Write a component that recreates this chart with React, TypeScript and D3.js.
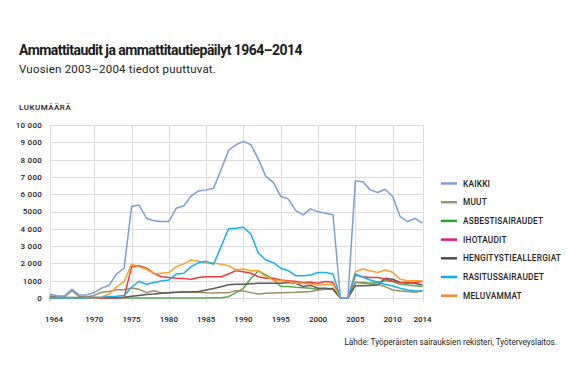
import * as React from "react";
import * as d3 from "d3";

const years = [
  1964, 1965, 1966, 1967, 1968, 1969, 1970, 1971, 1972, 1973, 1974, 1975, 1976,
  1977, 1978, 1979, 1980, 1981, 1982, 1983, 1984, 1985, 1986, 1987, 1988, 1989,
  1990, 1991, 1992, 1993, 1994, 1995, 1996, 1997, 1998, 1999, 2000, 2001, 2002,
  2003, 2004, 2005, 2006, 2007, 2008, 2009, 2010, 2011, 2012, 2013, 2014,
];

const kaikki = [
  220, 130, 110, 500, 180, 180, 320, 570, 740, 1400, 1720, 5290, 5380, 4610,
  4460, 4420, 4420, 5190, 5330, 5900, 6190, 6250, 6350, 7410, 8530, 8860, 9050,
  8860, 8030, 7030, 6680, 5870, 5730, 5060, 4810, 5150, 4980, 4900, 4810, 0, 0,
  6770, 6720, 6250, 6100, 6290, 5870, 4710, 4420, 4600, 4330,
];
const muut = [
  120, 60, 60, 420, 80, 60, 150, 330, 380, 480, 470, 580, 500, 310, 420, 310,
  310, 330, 330, 340, 330, 300, 290, 300, 310, 420, 400, 310, 230, 270, 290, 310,
  320, 330, 350, 370, 460, 510, 560, 0, 0, 910, 850, 810, 790, 660, 460, 400,
  370, 330, 420,
];
const asbesti = [
  0, 0, 0, 0, 0, 0, 0, 0, 0, 0, 0, 0, 0, 0, 0, 0, 0, 0, 0, 0, 0, 0, 10, 20, 75,
  310, 560, 1140, 1560, 1330, 1080, 660, 660, 620, 590, 560, 510, 510, 500, 0, 0,
  890, 890, 850, 910, 1000, 950, 790, 750, 710, 660,
];
const ihotaudit = [
  0, 0, 0, 0, 0, 0, 0, 0, 0, 0, 30, 1800, 1870, 1720, 1430, 1230, 1180, 1140,
  1120, 1080, 1180, 1230, 1230, 1230, 1390, 1580, 1520, 1430, 1230, 1140, 1140,
  1040, 1000, 950, 890, 910, 850, 950, 910, 0, 0, 1330, 1230, 1180, 1180, 1100,
  980, 890, 850, 910, 950,
];
const hengitys = [
  30, 30, 30, 30, 30, 30, 30, 30, 30, 30, 40, 100, 150, 200, 230, 270, 300, 330,
  350, 360, 380, 460, 550, 650, 770, 790, 790, 820, 850, 850, 850, 850, 890, 850,
  660, 730, 560, 560, 500, 0, 0, 710, 710, 720, 750, 1140, 1080, 910, 890, 850,
  750,
];
const rasitus = [
  0, 0, 0, 0, 0, 0, 30, 50, 80, 100, 150, 620, 970, 790, 890, 980, 1040, 1390,
  1430, 1810, 2040, 2120, 1950, 2970, 4000, 4030, 4090, 3690, 2590, 2200, 2040,
  1720, 1580, 1290, 1290, 1330, 1470, 1470, 1390, 0, 0, 1390, 1200, 1040, 910,
  790, 690, 560, 460, 420, 400,
];
const meluvammat = [
  0, 0, 0, 0, 0, 0, 0, 40, 230, 650, 950, 1960, 1810, 1660, 1390, 1430, 1470,
  1810, 1970, 2200, 2120, 2010, 2040, 1950, 1870, 1620, 1680, 1580, 1580, 1230,
  1040, 1000, 950, 850, 850, 810, 730, 770, 790, 0, 0, 1520, 1680, 1580, 1470,
  1620, 1490, 1080, 1000, 1000, 980,
];

const seriesNames = [
  "KAIKKI",
  "MUUT",
  "ASBESTISAIRAUDET",
  "IHOTAUDIT",
  "HENGITYSTIEALLERGIAT",
  "RASITUSSAIRAUDET",
  "MELUVAMMAT",
];
const seriesValues = [kaikki, muut, asbesti, ihotaudit, hengitys, rasitus, meluvammat];
const lineColors = ["#7b9ed6", "#9b8f5e", "#55ad50", "#ec3a3f", "#5a5a5a", "#13b2ec", "#ffa126"];
const legendColors = ["#7b9ed6", "#9c9572", "#1fae2a", "#ee127c", "#505050", "#14aaf0", "#fb8a2c"];
// drawing order: kaikki on top
const drawOrder = [2, 1, 4, 3, 6, 5, 0];

const yTicks = [0, 1000, 2000, 3000, 4000, 5000, 6000, 7000, 8000, 9000, 10000];
const yTickLabels = ["0", "1000", "2 000", "3 000", "4 000", "5000", "6 000", "7 000", "8 000", "9 000", "10 000"];
const xTicks = [1964, 1970, 1975, 1980, 1985, 1990, 1995, 2000, 2005, 2010, 2014];

const FONT = "Roboto, 'Liberation Sans', sans-serif";

function drawChart(svgRef) {
  const svg = d3.select(svgRef.current);
  svg.selectAll("*").remove();

  const x = d3.scaleLinear().domain([1964, 2014]).range([49.5, 422.5]);
  const y = d3.scaleLinear().domain([0, 10000]).range([298, 125]);

  svg.append("rect").attr("width", 567).attr("height", 370).attr("fill", "#fff");

  // titles
  svg
    .append("text")
    .attr("x", 19)
    .attr("y", 55)
    .attr("font-family", FONT)
    .attr("font-weight", 700)
    .attr("font-size", 14)
    .attr("letter-spacing", -0.55)
    .attr("fill", "#1a1a1a")
    .text("Ammattitaudit ja ammattitautiepäilyt 1964–2014");
  svg
    .append("text")
    .attr("x", 19)
    .attr("y", 73)
    .attr("font-family", FONT)
    .attr("font-size", 11.5)
    .attr("letter-spacing", 0.2)
    .attr("fill", "#222")
    .text("Vuosien 2003–2004 tiedot puuttuvat.");
  svg
    .append("text")
    .attr("x", 19)
    .attr("y", 110)
    .attr("font-family", FONT)
    .attr("font-weight", 500)
    .attr("font-size", 8)
    .attr("letter-spacing", 0.5)
    .attr("fill", "#222")
    .text("LUKUMÄÄRÄ");

  // grid
  const grid = svg.append("g").attr("stroke", "#dcdcdc").attr("stroke-width", 1);
  grid
    .selectAll("line.h")
    .data(yTicks)
    .enter()
    .append("line")
    .attr("x1", x(1964))
    .attr("x2", x(2014))
    .attr("y1", (d) => Math.round(y(d)) + 0.5)
    .attr("y2", (d) => Math.round(y(d)) + 0.5);
  grid
    .selectAll("line.v")
    .data(xTicks)
    .enter()
    .append("line")
    .attr("x1", (d) => Math.round(x(d)) + 0.5)
    .attr("x2", (d) => Math.round(x(d)) + 0.5)
    .attr("y1", y(10000))
    .attr("y2", y(0) + 4);

  // axis labels
  svg
    .append("g")
    .selectAll("text")
    .data(yTicks)
    .enter()
    .append("text")
    .attr("x", 42)
    .attr("y", (d) => y(d) + 2.9)
    .attr("text-anchor", "end")
    .attr("font-family", FONT)
    .attr("font-weight", 500)
    .attr("font-size", 8)
    .attr("letter-spacing", 0.25)
    .attr("fill", "#222")
    .text((d, i) => yTickLabels[i]);
  svg
    .append("g")
    .selectAll("text")
    .data(xTicks)
    .enter()
    .append("text")
    .attr("x", (d, i) => x(d) + (i === 0 ? 4.5 : 0))
    .attr("y", 322)
    .attr("text-anchor", "middle")
    .attr("font-family", FONT)
    .attr("font-weight", 500)
    .attr("font-size", 8)
    .attr("fill", "#222")
    .text((d) => d);

  // lines
  const line = d3
    .line()
    .x((d, i) => x(years[i]))
    .y((d) => y(d));

  svg
    .append("g")
    .selectAll("path")
    .data(drawOrder)
    .enter()
    .append("path")
    .attr("d", (k) => line(seriesValues[k]))
    .attr("fill", "none")
    .attr("stroke", (k) => lineColors[k])
    .attr("stroke-width", 1.5)
    .attr("stroke-linejoin", "round");

  // legend
  const legend = svg
    .append("g")
    .selectAll("g")
    .data(seriesNames)
    .enter()
    .append("g")
    .attr("transform", (d, i) => `translate(441, ${183.5 + i * 18.7})`);
  legend
    .append("line")
    .attr("x1", 0)
    .attr("x2", 16)
    .attr("stroke", (d, i) => legendColors[i])
    .attr("stroke-width", 2.5);
  legend
    .append("text")
    .attr("x", 22)
    .attr("y", 3)
    .attr("font-family", FONT)
    .attr("font-weight", 500)
    .attr("font-size", 8.3)
    .attr("letter-spacing", 0.2)
    .attr("fill", "#222")
    .text((d) => d);

  // source
  svg
    .append("text")
    .attr("x", 557)
    .attr("y", 345)
    .attr("text-anchor", "end")
    .attr("font-family", FONT)
    .attr("font-size", 8.2)
    .attr("fill", "#222")
    .text("Lähde: Työperäisten sairauksien rekisteri, Työterveyslaitos.");
}

const App = () => {
  const svg = React.useRef(null);
  React.useEffect(() => {
    drawChart(svg);
  }, [svg]);

  return (
    <svg
      ref={svg}
      width={567}
      height={370}
      style={{ position: "absolute", left: 0, top: 0 }}
    />
  );
};

export default App;
